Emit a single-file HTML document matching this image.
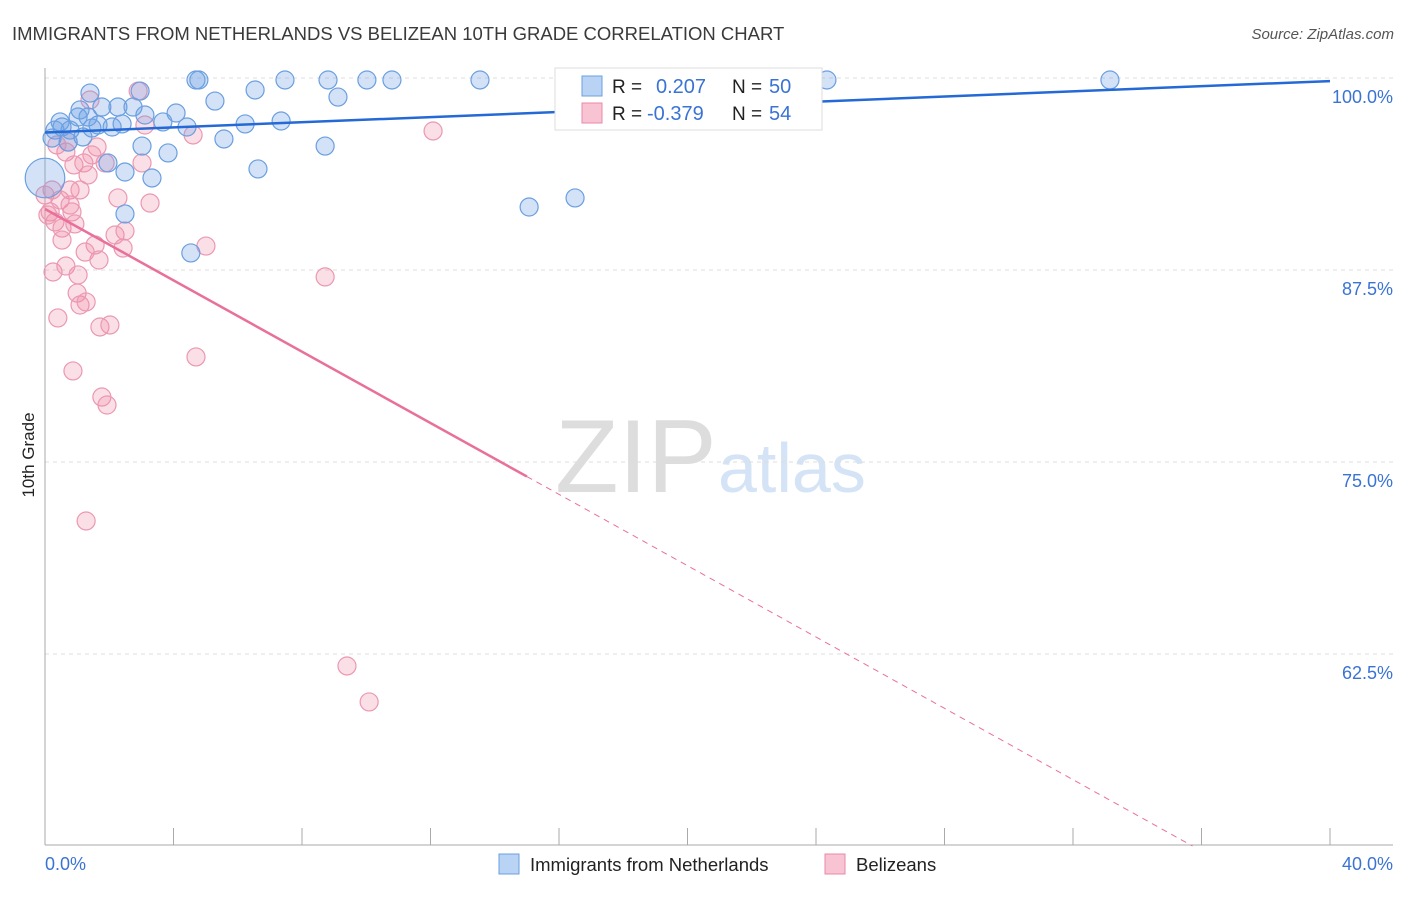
<!DOCTYPE html>
<html><head><meta charset="utf-8"><style>
body{margin:0;background:#fff;font-family:"Liberation Sans",sans-serif}
svg text{font-family:"Liberation Sans",sans-serif}
</style></head><body>
<svg id="c" width="1406" height="892">
<text x="12" y="40" font-size="18.5" fill="#3a3a3a">IMMIGRANTS FROM NETHERLANDS VS BELIZEAN 10TH GRADE CORRELATION CHART</text>
<text x="1394" y="39" font-size="15" fill="#555" text-anchor="end" font-style="italic">Source: ZipAtlas.com</text>
<text transform="translate(34,455) rotate(-90)" font-size="17" fill="#222" text-anchor="middle">10th Grade</text>
<g>
<text x="555" y="492" font-size="104" fill="#ddd" font-family="Liberation Serif, serif">ZIP</text>
<text x="718" y="492" font-size="70" fill="#d4e3f5">atlas</text>
</g>
<g id="grid"></g><g id="pts"></g><g id="trend"></g>
<g>
<rect x="555" y="68" width="267" height="62" fill="#fff" stroke="#ddd"/>
<rect x="582" y="76" width="20" height="20" fill="#b8d3f3" stroke="#6a9fe0"/>
<text x="612" y="93" font-size="19" fill="#222">R = </text><text x="656" y="93" font-size="20" fill="#3a73d4">0.207</text>
<text x="732" y="93" font-size="19" fill="#222">N = </text><text x="769" y="93" font-size="20" fill="#3a73d4">50</text>
<rect x="582" y="103" width="20" height="20" fill="#f8c3d3" stroke="#e88aa8"/>
<text x="612" y="120" font-size="19" fill="#222">R = </text><text x="647" y="120" font-size="20" fill="#3a73d4">-0.379</text>
<text x="732" y="120" font-size="19" fill="#222">N = </text><text x="769" y="120" font-size="20" fill="#3a73d4">54</text>
</g>
<g>
<rect x="499" y="854" width="20" height="20" fill="#b8d3f3" stroke="#6a9fe0"/>
<text x="530" y="871" font-size="18.5" fill="#222">Immigrants from Netherlands</text>
<rect x="825" y="854" width="20" height="20" fill="#f8c3d3" stroke="#e88aa8"/>
<text x="856" y="871" font-size="18.5" fill="#222">Belizeans</text>
</g>
</svg>
<script>
const yTicks=[100,87.5,75,62.5];
const yTickLabels=["100.0%","87.5%","75.0%","62.5%"];
const xTickLabels=["0.0%","40.0%"];
const blueX=[0.22,0.31,0.47,0.53,0.72,0.78,1.03,1.09,1.18,1.40,1.34,1.46,1.65,1.77,1.96,2.09,2.27,2.40,2.49,2.74,2.96,3.11,3.02,3.33,3.67,3.83,4.08,4.42,4.70,4.79,5.29,5.57,6.23,6.54,6.63,7.35,7.47,8.72,8.81,9.12,10.02,10.80,13.54,15.07,16.50,24.34,33.15,2.49,4.54,0];
const blueY=[96.09,96.61,97.14,96.81,95.83,96.61,97.46,97.92,96.16,99.02,97.46,96.74,96.94,98.11,94.47,96.81,98.11,97.01,93.88,98.11,99.15,97.59,95.57,93.49,97.14,95.12,97.72,96.81,99.87,99.87,98.50,96.03,97.01,99.22,94.08,97.20,99.87,95.57,99.87,98.76,99.87,99.87,99.87,91.60,92.19,99.87,99.87,91.15,88.61,93.49];
const blueSize=[1,1,1,1,1,1,1,1,1,1,1,1,1,1,1,1,1,1,1,1,1,1,1,1,1,1,1,1,1,1,1,1,1,1,1,1,1,1,1,1,1,1,1,1,1,1,1,1,1,2.2];
const pinkX=[0.22,0.16,0.25,0.40,0.31,0.47,0.53,0.65,0.65,0.72,0.78,0.84,0.78,0.90,0.87,0.93,1.00,1.03,1.09,1.09,1.21,1.28,1.28,1.34,1.40,1.46,1.56,1.62,1.68,1.71,1.77,1.87,1.93,2.02,2.18,2.27,2.43,2.49,2.90,3.02,3.11,3.27,4.61,4.70,5.01,8.72,9.40,10.09,12.08,1.25,0.37,0.09,0,0.53];
const pinkY=[92.71,91.28,87.37,84.38,90.63,92.06,90.23,95.18,87.76,95.83,92.71,91.28,91.73,94.34,80.93,90.50,86.00,87.18,92.71,85.22,94.47,85.42,71.16,93.69,98.57,94.99,89.13,95.51,88.15,83.79,79.23,94.47,78.71,83.92,89.78,92.19,88.93,90.04,99.15,94.47,96.94,91.86,96.29,81.84,89.06,87.05,61.72,59.38,96.55,88.67,95.64,91.08,92.38,89.45];
const blueTrend=[96.45,99.8]; // y at x=0 and x=40
const pinkTrend=[91.47,-1.161]; // intercept, slope
const X0=45,X1=1330,Y100=78,PPU=15.36;
const sx=v=>X0+(v/40)*(X1-X0), sy=v=>Y100+(100-v)*PPU;
const NS="http://www.w3.org/2000/svg";
function mk(p,t,a){const e=document.createElementNS(NS,t);for(const k in a)e.setAttribute(k,a[k]);p.appendChild(e);return e;}
const g=document.getElementById('grid');
yTicks.forEach((t,i)=>{
 const l=mk(g,'line',{x1:45,x2:1393,y1:sy(t),y2:sy(t),stroke:'#ddd','stroke-dasharray':'4,4'});
 
 
 const tx=mk(g,'text',{x:1393,y:sy(t)+25,'font-size':18,fill:'#3a73d4','text-anchor':'end'});tx.textContent=yTickLabels[i];
 
 
});
const ax=mk(g,'line',{x1:45,x2:1393,y1:845,y2:845,stroke:'#aaa'});


const ay=mk(g,'line',{x1:45,x2:45,y1:68,y2:845,stroke:'#aaa'});


for(let i=1;i<=10;i++){const t=mk(g,'line',{x1:sx(i*4),x2:sx(i*4),y1:828,y2:845,stroke:'#aaa'});
 
 }
[[0,'start',45],[40,'end',1393]].forEach((d,i)=>{const t=mk(g,'text',{x:d[2],y:870,'font-size':18,fill:'#3a73d4','text-anchor':d[1]});t.textContent=xTickLabels[i];
 
 });
const P=document.getElementById('pts');
pinkX.forEach((x,i)=>{const c=mk(P,'circle',{cx:sx(x),cy:sy(pinkY[i]),r:9,fill:'rgba(240,140,170,0.28)',stroke:'#eb98b2','stroke-width':1.2});
 
 });
blueX.forEach((x,i)=>{const c=mk(P,'circle',{cx:sx(x),cy:sy(blueY[i]),r:9*blueSize[i],fill:'rgba(110,160,230,0.3)',stroke:'#6a9fe0','stroke-width':1.2});
 
 });
const T=document.getElementById('trend');
const bl=mk(T,'line',{x1:sx(0),y1:sy(blueTrend[0]),x2:sx(40),y2:sy(blueTrend[1]),stroke:'#2469d6','stroke-width':2.5});


const pf=x=>pinkTrend[0]+pinkTrend[1]*x;
const xs=15.0, xe=(50-pinkTrend[0])/pinkTrend[1];
const pl=mk(T,'line',{x1:sx(0),y1:sy(pf(0)),x2:sx(xs),y2:sy(pf(xs)),stroke:'#e8709a','stroke-width':2.5});


const pd=mk(T,'line',{x1:sx(xs),y1:sy(pf(xs)),x2:sx(xe),y2:sy(pf(xe)),stroke:'#e8709a','stroke-width':1,'stroke-dasharray':'6,5'});


</script>
</body></html>
